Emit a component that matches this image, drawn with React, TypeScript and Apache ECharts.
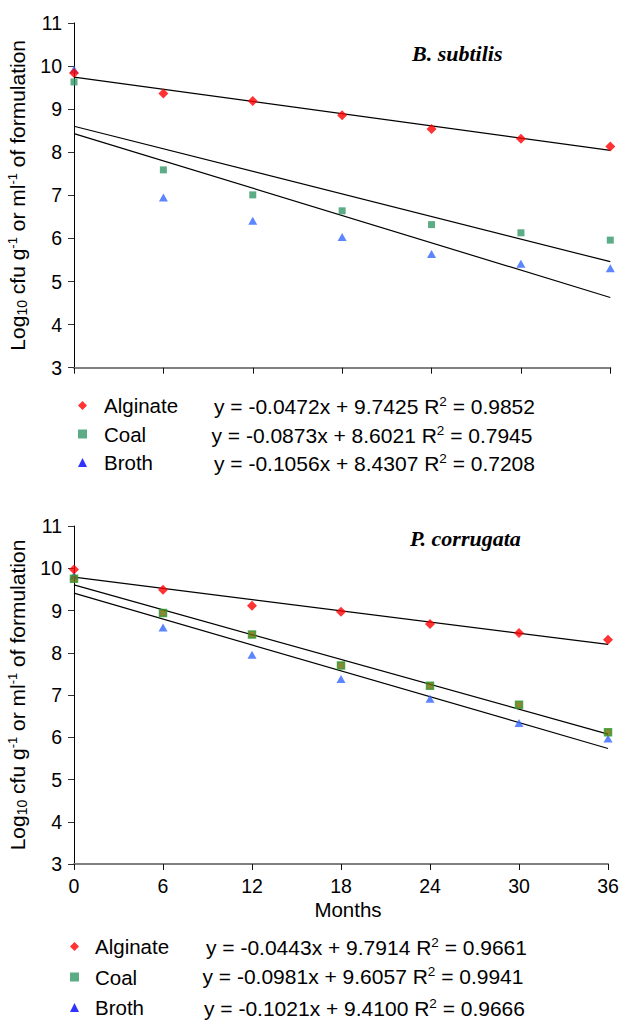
import React, { useEffect, useRef } from "react";
import * as echarts from "echarts";

const months = [0, 6, 12, 18, 24, 30, 36];
const seriesNames = ["Alginate", "Coal", "Broth"];

// B. subtilis
const bsAlginate = [9.84, 9.36, 9.19, 8.86, 8.54, 8.31, 8.13];
const bsCoal = [9.63, 7.59, 7.01, 6.64, 6.32, 6.13, 5.96];
const bsBroth = [9.92, 6.95, 6.41, 6.03, 5.64, 5.41, 5.31];
const bsSlope = [-0.0472, -0.0873, -0.1056];
const bsIntercept = [9.7425, 8.6021, 8.4307];
const bsR2 = [0.9852, 0.7945, 0.7208];

// P. corrugata
const pcAlginate = [9.97, 9.49, 9.11, 8.97, 8.68, 8.47, 8.31];
const pcCoal = [9.75, 8.94, 8.43, 7.7, 7.22, 6.77, 6.12];
const pcBroth = [9.83, 8.6, 7.95, 7.38, 6.91, 6.34, 5.97];
const pcSlope = [-0.0443, -0.0981, -0.1021];
const pcIntercept = [9.7914, 9.6057, 9.41];
const pcR2 = [0.9661, 0.9941, 0.9666];

const yTicks = [3, 4, 5, 6, 7, 8, 9, 10, 11];
const xTicks = [0, 6, 12, 18, 24, 30, 36];

const SANS = "'Liberation Sans', Arial, Helvetica, sans-serif";
const SERIF = "'Liberation Serif', 'Times New Roman', serif";

const pair = (ys: number[]) => months.map((m, i) => [m, ys[i]]);
const eqText = (a: number, b: number, r: number) =>
  `y = ${a.toFixed(4)}x + ${b.toFixed(4)} R{sup|2} = ${r.toFixed(4)}`;

export default function App() {
  const ref = useRef<HTMLDivElement>(null);
  useEffect(() => {
    if (!ref.current) return;
    const chart = echarts.init(ref.current, undefined, { renderer: "svg" });

    const yName = "Log{sub|10} cfu g{sup|-1} or ml{sup|-1} of formulation";
    const yNameStyle = {
      fontFamily: SANS,
      fontSize: 21,
      color: "#000",
      lineHeight: 23,
      rich: {
        sub: { fontFamily: SANS, fontSize: 14, lineHeight: 13, verticalAlign: "bottom", color: "#000" },
        sup: { fontFamily: SANS, fontSize: 13, lineHeight: 12, verticalAlign: "top", color: "#000" },
      },
    };

    const makeY = (gi: number) => ({
      type: "value",
      gridIndex: gi,
      min: yTicks[0],
      max: yTicks[yTicks.length - 1],
      interval: 1,
      name: yName,
      nameLocation: "middle",
      nameGap: 40,
      nameTextStyle: yNameStyle,
      axisLine: { show: true, lineStyle: { color: "#000", width: 1 } },
      axisTick: { show: true, length: 6, lineStyle: { color: "#333" } },
      axisLabel: { fontFamily: SANS, fontSize: 19.5, color: "#000", margin: 12 },
      splitLine: { show: false },
    });

    const makeX = (gi: number, labels: boolean) => ({
      type: "value",
      gridIndex: gi,
      min: xTicks[0],
      max: xTicks[xTicks.length - 1],
      interval: 6,
      name: labels ? "Months" : "",
      nameLocation: "middle",
      nameGap: 35,
      nameTextStyle: { fontFamily: SANS, fontSize: 20.5, color: "#000", padding: [0, 0, 0, 14] },
      axisLine: { show: true, lineStyle: { color: "#808080", width: 2 } },
      axisTick: { show: true, length: 6, lineStyle: { color: "#111" } },
      axisLabel: { show: labels, fontFamily: SANS, fontSize: 19.5, color: "#000", margin: 12 },
      splitLine: { show: false },
    });

    const scatter = (name: string, gi: number, data: number[], symbol: string, size: any, itemStyle: any) => ({
      name,
      type: "scatter",
      xAxisIndex: gi,
      yAxisIndex: gi,
      data: pair(data),
      symbol,
      symbolSize: size,
      itemStyle,
      z: 3,
    });

    const trend = (name: string, gi: number, a: number, b: number) => ({
      name: name + " trend",
      type: "line",
      xAxisIndex: gi,
      yAxisIndex: gi,
      data: [
        [months[0], b + a * months[0]],
        [months[months.length - 1], b + a * months[months.length - 1]],
      ],
      showSymbol: false,
      symbol: "none",
      lineStyle: { color: "#000", width: 1.2 },
      z: 2,
      silent: true,
    });

    const legendData = [
      { name: "Alginate", icon: "diamond", itemStyle: { color: "#ff0000" } },
      { name: "Coal", icon: "rect", itemStyle: { color: "#339966" } },
      { name: "Broth", icon: "triangle", itemStyle: { color: "#0000ff" } },
    ];

    const eqRich = {
      sup: { fontFamily: SANS, fontSize: 13.5, lineHeight: 12, verticalAlign: "top", fill: "#000" },
    };
    const eqGraphic = (x: number, y: number, a: number, b: number, r: number) => ({
      type: "text",
      x,
      y,
      style: {
        text: eqText(a, b, r),
        fontFamily: SANS,
        fontSize: 21,
        lineHeight: 23,
        fill: "#000",
        verticalAlign: "middle",
        align: "left",
        rich: eqRich,
      },
    });

    const topEqX = [214, 211.5, 214];
    const topEqY = [406, 435, 463];
    const botEqX = [206, 202.5, 204];
    const botEqY = [947, 976, 1008];

    chart.setOption({
      animation: false,
      backgroundColor: "#fff",
      title: [
        {
          text: "B. subtilis",
          left: 412,
          top: 42,
          padding: 0,
          textStyle: { fontFamily: SERIF, fontStyle: "italic", fontWeight: "bold", fontSize: 22, color: "#000" },
        },
        {
          text: "P. corrugata",
          left: 410,
          top: 527,
          padding: 0,
          textStyle: { fontFamily: SERIF, fontStyle: "italic", fontWeight: "bold", fontSize: 22, color: "#000" },
        },
      ],
      legend: [
        {
          orient: "vertical",
          left: 78,
          top: 395,
          padding: 0,
          itemWidth: 9,
          itemHeight: 9,
          itemGap: 7.5,
          selectedMode: false,
          data: legendData,
          textStyle: { fontFamily: SANS, fontSize: 20.5, lineHeight: 20, color: "#000", padding: [0, 0, 0, 12] },
        },
        {
          orient: "vertical",
          left: 70,
          top: 936,
          padding: 0,
          itemWidth: 9,
          itemHeight: 9,
          itemGap: 9.5,
          selectedMode: false,
          data: legendData,
          textStyle: { fontFamily: SANS, fontSize: 20.5, lineHeight: 20, color: "#000", padding: [0, 0, 0, 11] },
        },
      ],
      grid: [
        { left: 74, top: 22.9, width: 536.3, height: 344.8, outerBoundsMode: "none", containLabel: false },
        { left: 74, top: 526, width: 534, height: 338, outerBoundsMode: "none", containLabel: false },
      ],
      xAxis: [makeX(0, false), makeX(1, true)],
      yAxis: [makeY(0), makeY(1)],
      series: [
        trend("Alginate", 0, bsSlope[0], bsIntercept[0]),
        trend("Coal", 0, bsSlope[1], bsIntercept[1]),
        trend("Broth", 0, bsSlope[2], bsIntercept[2]),
        scatter(seriesNames[2], 0, bsBroth, "triangle", [9, 8], { color: "#3366ff" }),
        scatter(seriesNames[1], 0, bsCoal, "rect", 7, { color: "#339966" }),
        scatter(seriesNames[0], 0, bsAlginate, "diamond", [10, 10], { color: "#ff0000" }),
        trend("Alginate", 1, pcSlope[0], pcIntercept[0]),
        trend("Coal", 1, pcSlope[1], pcIntercept[1]),
        trend("Broth", 1, pcSlope[2], pcIntercept[2]),
        scatter(seriesNames[2], 1, pcBroth, "triangle", [9, 8], { color: "#3366ff" }),
        scatter(seriesNames[1], 1, pcCoal, "rect", 7, { color: "#6b6b00", borderColor: "#2f9a2f", borderWidth: 1.5 }),
        scatter(seriesNames[0], 1, pcAlginate, "diamond", [10, 10], { color: "#ff0000" }),
      ],
      graphic: [
        ...topEqX.map((x, i) => eqGraphic(x, topEqY[i], bsSlope[i], bsIntercept[i], bsR2[i])),
        ...botEqX.map((x, i) => eqGraphic(x, botEqY[i], pcSlope[i], pcIntercept[i], pcR2[i])),
      ],
    });

    return () => chart.dispose();
  }, []);

  return (
    <div
      ref={ref}
      style={{ position: "absolute", left: 0, top: 0, width: 621, height: 1021, background: "#fff" }}
    />
  );
}
